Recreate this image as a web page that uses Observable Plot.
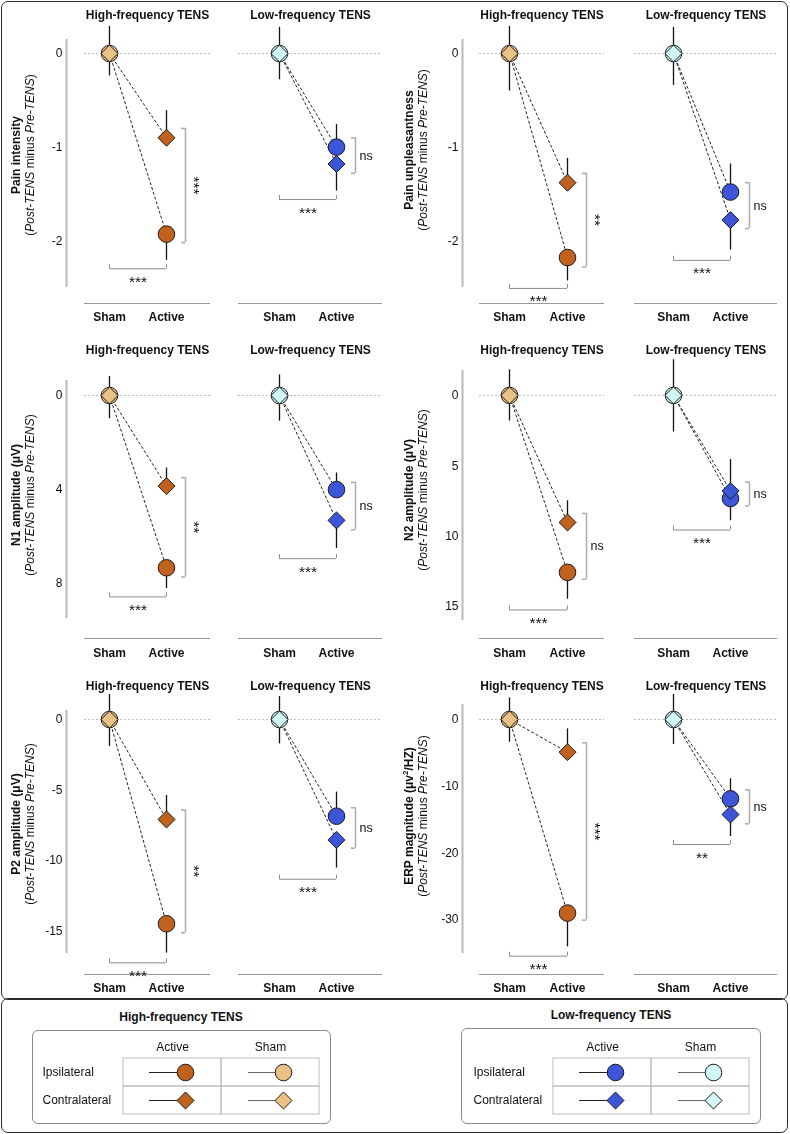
<!DOCTYPE html>
<html><head><meta charset="utf-8">
<script src="https://cdn.jsdelivr.net/npm/d3@7"></script>
<script src="https://cdn.jsdelivr.net/npm/@observablehq/plot@0.6"></script>
<style>
html,body{margin:0;padding:0;background:#fff;}
#fig{position:relative;width:790px;height:1134px;font-family:"Liberation Sans",Arial,sans-serif;overflow:hidden;color:#111;}
.box{position:absolute;box-sizing:border-box;border:1.3px solid #2b2b2b;border-radius:7px;}
.panel{position:absolute;will-change:transform;}
.panel svg{overflow:visible;display:block;background:transparent;}
.panel g[aria-label^="x-axis"] text{font-weight:bold;}
.legbox{position:absolute;box-sizing:border-box;border:1px solid #8a8a8a;border-radius:6px;}
.legtitle{position:absolute;font-weight:bold;font-size:12px;line-height:14px;transform:translateX(-50%);white-space:nowrap;}
</style></head><body><div id="fig"></div>
<script>
// ---------------- DATA ----------------
const conditions = ["Sham", "Active"];
const frequencies = ["High-frequency TENS", "Low-frequency TENS"];
const measures = ["Pain intensity", "Pain unpleasantness", "N1 amplitude (\u03bcV)", "N2 amplitude (\u03bcV)", "P2 amplitude (\u03bcV)", "ERP magnitude (\u03bcv\u00b2/HZ)"];
const yTicks = [[0, -1, -2], [0, -1, -2], [0, 4, 8], [0, 5, 10, 15], [0, -5, -10, -15], [0, -10, -20, -30]];
const yExtent = [[0.15, -2.5], [0.15, -2.5], [-0.64, 9.5], [-1.77, 16], [0.64, -16.6], [2.25, -35.1]];
// panels: [PI-High, PI-Low, PU-High, PU-Low, N1-High, N1-Low, N2-High, N2-Low, P2-High, P2-Low, ERP-High, ERP-Low]
const shamIpsi        = [0, 0, 0, 0, 0, 0, 0, 0, 0, 0, 0, 0];
const shamContra      = [0, 0, 0, 0, 0, 0, 0, 0, 0, 0, 0, 0];
const shamErrUp       = [0.29, 0.28, 0.29, 0.28, -0.81, -0.88, -1.82, -2.53, 1.77, 1.63, 3.25, 3.75];
const shamErrDown     = [-0.24, -0.28, -0.40, -0.34, 0.99, 1.09, 1.82, 2.60, -1.91, -1.73, -3.4, -3.75];
const activeIpsi      = [-1.93, -1.00, -2.18, -1.48, 7.34, 4.01, 12.58, 7.33, -14.49, -6.86, -29.04, -11.9];
const activeIpsiErr   = [-2.21, -0.76, -2.43, -1.18, 8.23, 3.30, 14.49, 8.91, -16.57, -5.15, -34.1, -8.9];
const activeContra    = [-0.90, -1.18, -1.38, -1.78, 3.86, 5.32, 9.03, 6.79, -7.09, -8.54, -4.9, -14.25];
const activeContraErr = [-0.61, -1.47, -1.12, -2.10, 3.09, 6.52, 7.49, 4.56, -5.39, -10.54, -1.4, -17.55];
const sideBracketTop    = [-0.80, -0.90, -1.28, -1.38, 3.50, 3.70, 8.39, 6.17, -6.41, -6.26, -3.5, -10.55];
const sideBracketBottom = [-2.02, -1.28, -2.28, -1.87, 7.73, 5.72, 13.07, 7.85, -15.13, -9.13, -30.1, -15.65];
const sideLabel         = ["***", "ns", "**", "ns", "**", "ns", "ns", "ns", "**", "ns", "***", "ns"];
const condBracket       = [-2.30, -1.56, -2.51, -2.21, 8.58, 6.95, 15.25, 9.57, -17.26, -11.33, -35.5, -18.75];
const condLabel         = ["***", "***", "***", "***", "***", "***", "***", "***", "***", "***", "***", "**"];
const legendConds = ["Active", "Sham"];
const legendSides = ["Ipsilateral", "Contralateral"];

// ---------------- STYLE / LAYOUT ----------------
const colors = {
  High: {Active: "#c0621e", Sham: "#ebc286"},
  Low: {Active: "#3d55d9", Sham: "#d0f6f6"}
};
const INK = "#111";
const FONT = "'Liberation Sans', Arial, sans-serif";
const ROWS = [
  {T: 0, H: 330, xAxis: 303, labelBase: 320, titleY: 14.5, axisTop: [39, 39], axisBottom: [287, 287], labelY: [155, 150]},
  {T: 330, H: 335, xAxis: 638, labelBase: 656, titleY: 349.5, axisTop: [380, 370], axisBottom: [618, 620], labelY: [495, 490]},
  {T: 665, H: 334, xAxis: 974, labelBase: 991, titleY: 686, axisTop: [710, 704], axisBottom: [953, 953], labelY: [824, 816]}
];
const COLS = [
  [{L: 0, W: 225, yAxis: 66, start: 84, end: 210, sham: 109, active: 166},
   {L: 225, W: 173, start: 238, end: 382, sham: 279, active: 336}],
  [{L: 398, W: 222, yAxis: 462, start: 479, end: 604, sham: 509, active: 567},
   {L: 620, W: 170, start: 634, end: 777, sham: 673, active: 730}]
];
const LABELX = [[19.5, 34], [412.5, 427]];
const CIRCLE_R = 8.3, DIAMOND_R = 7.66;

const fig = document.getElementById("fig");
function addDiv(cls, css, html) {
  const d = document.createElement("div");
  d.className = cls;
  Object.assign(d.style, css);
  if (html) d.innerHTML = html;
  fig.appendChild(d);
  return d;
}
addDiv("box", {left: "1px", top: "1px", width: "787px", height: "999px"});
addDiv("box", {left: "1px", top: "998px", width: "787px", height: "135px"});

function makePanel(p) {
  const m = Math.floor(p / 2), f = p % 2, col = m % 2, row = Math.floor(m / 2);
  const R = ROWS[row], C = COLS[col][f];
  const top = R.axisTop[col] - R.T, bottom = R.axisBottom[col] - R.T;
  const pal = colors[f === 0 ? "High" : "Low"];
  const sham = [
    {x: 0, y: shamIpsi[p], err: shamErrDown[p], side: "Ipsilateral"},
    {x: 0, y: shamContra[p], err: shamErrUp[p], side: "Contralateral"}
  ];
  const active = [
    {x: 1, y: activeIpsi[p], err: activeIpsiErr[p], side: "Ipsilateral"},
    {x: 1, y: activeContra[p], err: activeContraErr[p], side: "Contralateral"}
  ];
  const links = [
    {y1: shamIpsi[p], y2: activeIpsi[p]},
    {y1: shamContra[p], y2: activeContra[p]}
  ];
  const vb = [{x: 1, y1: sideBracketTop[p], y2: sideBracketBottom[p], label: sideLabel[p]}];
  const vbEnds = [{x: 1, y: sideBracketTop[p]}, {x: 1, y: sideBracketBottom[p]}];
  const hb = [{x1: 0, x2: 1, y: condBracket[p], label: condLabel[p]}];
  const hbEnds = [{x: 0, y: condBracket[p]}, {x: 1, y: condBracket[p]}];
  const bracketDx = 19;
  const ipsi = d => d.side === "Ipsilateral", contra = d => d.side === "Contralateral";

  const marks = [
    Plot.ruleY([0], {stroke: "#ababab", strokeDasharray: "2,2", strokeWidth: 0.8}),
    Plot.ruleY([yExtent[m][1]], {stroke: "#9a9a9a", strokeWidth: 1.2, dy: R.xAxis - R.axisBottom[col]}),
    Plot.link(links, {x1: 0, x2: 1, y1: "y1", y2: "y2", stroke: "#222", strokeWidth: 1, strokeDasharray: "3,2"}),
    Plot.ruleX(sham.concat(active), {x: "x", y1: "y", y2: "err", stroke: INK, strokeWidth: 1.3}),
    Plot.dot(sham.filter(ipsi), {x: "x", y: "y", r: CIRCLE_R, fill: pal.Sham, stroke: "#1a1a1a", strokeWidth: 1}),
    Plot.dot(active.filter(ipsi), {x: "x", y: "y", r: CIRCLE_R, fill: pal.Active, stroke: "#1a1a1a", strokeWidth: 1}),
    Plot.dot(sham.filter(contra), {x: "x", y: "y", r: DIAMOND_R, symbol: d3.symbolDiamond2, fill: pal.Sham, stroke: "#1a1a1a", strokeWidth: 1}),
    Plot.dot(active.filter(contra), {x: "x", y: "y", r: DIAMOND_R, symbol: d3.symbolDiamond2, fill: pal.Active, stroke: "#1a1a1a", strokeWidth: 1}),
    // side (ipsi vs contra) bracket
    Plot.ruleX(vb, {x: "x", y1: "y1", y2: "y2", dx: bracketDx, stroke: "#ababab", strokeWidth: 1.5}),
    Plot.ruleY(vbEnds, {x1: "x", x2: "x", y: "y", dx: bracketDx, insetLeft: -4, stroke: "#ababab", strokeWidth: 1.5}),
    Plot.text(vb.filter(d => d.label !== "ns"), {x: "x", y: d => (d.y1 + d.y2) / 2, text: "label", rotate: 90, lineAnchor: "middle", dx: 27, fontSize: 15.5, fill: INK}),
    Plot.text(vb.filter(d => d.label === "ns"), {x: "x", y: d => (d.y1 + d.y2) / 2, text: "label", textAnchor: "start", lineAnchor: "middle", dx: 23, fontSize: 12.5, fill: INK}),
    // sham vs active bracket
    Plot.ruleY(hb, {x1: "x1", x2: "x2", y: "y", stroke: "#8c8c8c", strokeWidth: 1}),
    Plot.ruleX(hbEnds, {x: "x", y1: "y", y2: "y", insetTop: -4, stroke: "#8c8c8c", strokeWidth: 1}),
    Plot.text(hb, {x: d => (d.x1 + d.x2) / 2, y: "y", text: "label", lineAnchor: "top", dy: 7, fontSize: 15.5, fill: INK}),
    // title
    Plot.text([frequencies[f]], {frameAnchor: "top", lineAnchor: "middle", dy: R.titleY - R.axisTop[col], fontWeight: "bold", fontSize: 12, fill: INK})
  ];
  if (f === 0) {
    marks.unshift(Plot.ruleX([0], {y1: yExtent[m][0], y2: yExtent[m][1], dx: C.yAxis - C.sham, stroke: "#b8b8b8", strokeWidth: 2}));
  }
  const svg = Plot.plot({
    width: C.W, height: R.H,
    marginLeft: C.start - C.L, marginRight: C.L + C.W - C.end,
    marginTop: top, marginBottom: R.H - bottom,
    style: {fontFamily: FONT, fontSize: "12px", color: INK, background: "transparent", overflow: "visible"},
    x: {domain: [0, 1], range: [C.sham - C.L, C.active - C.L], ticks: [0, 1], tickFormat: i => conditions[i], tickSize: 0, tickPadding: R.labelBase - 8.5 - R.axisBottom[col], label: null},
    y: f === 0
      ? {domain: yExtent[m], range: [top, bottom], ticks: yTicks[m], tickFormat: d => String(d), tickSize: 0, tickPadding: C.start - C.yAxis + 4, label: null}
      : {domain: yExtent[m], range: [top, bottom], axis: null},
    marks
  });
  if (f === 0) {
    const g = d3.select(svg).append("g").attr("font-family", FONT).attr("fill", INK).attr("font-size", 12);
    const cy = R.labelY[col] - R.T;
    const t1 = g.append("text").attr("transform", `translate(${LABELX[col][0] - C.L},${cy}) rotate(-90)`)
      .attr("text-anchor", "middle").attr("font-weight", "bold");
    const name = measures[m];
    if (name.includes("\u00b2")) {
      const [a, b] = name.split("\u00b2");
      t1.append("tspan").text(a);
      t1.append("tspan").attr("font-size", 8).attr("dy", -4.5).text("2");
      t1.append("tspan").attr("dy", 4.5).text(b);
    } else t1.text(name);
    const t2 = g.append("text").attr("transform", `translate(${LABELX[col][1] - C.L},${cy}) rotate(-90)`)
      .attr("text-anchor", "middle");
    t2.append("tspan").text("(");
    t2.append("tspan").attr("font-style", "italic").text("Post-TENS");
    t2.append("tspan").text(" minus ");
    t2.append("tspan").attr("font-style", "italic").text("Pre-TENS");
    t2.append("tspan").text(")");
  }
  const holder = addDiv("panel", {left: C.L + "px", top: R.T + "px", width: C.W + "px", height: R.H + "px"});
  holder.appendChild(svg);
}
for (let p = 0; p < 12; p++) makePanel(p);

// ---------------- LEGENDS ----------------
const LEGENDS = [
  {key: "High", L: 32, T: 1030, W: 299, H: 94, gridL: 123, gridR: 319, gridT: 1057, gridB: 1114, labelX: 42, titleX: 181, titleTop: 1009.5, title: "High-frequency TENS"},
  {key: "Low", L: 461, T: 1028, W: 300, H: 96, gridL: 552, gridR: 749, gridT: 1057, gridB: 1114, labelX: 473, titleX: 611, titleTop: 1007.5, title: "Low-frequency TENS"}
];
function makeLegend(Lg) {
  const pal = colors[Lg.key];
  addDiv("legbox", {left: Lg.L + "px", top: Lg.T + "px", width: Lg.W + "px", height: Lg.H + "px"});
  addDiv("legtitle", {left: Lg.titleX + "px", top: Lg.titleTop + "px"}, Lg.title);
  const cells = legendSides.flatMap(s => legendConds.map(c => ({side: s, cond: c})));
  const markerMarks = cells.map(c => Plot.dot([c], {
    x: "cond", y: "side", dx: 13, r: c.side === "Ipsilateral" ? CIRCLE_R : DIAMOND_R,
    symbol: c.side === "Ipsilateral" ? "circle" : d3.symbolDiamond2,
    fill: pal[c.cond], stroke: "#1a1a1a", strokeWidth: 1
  }));
  const svg = Plot.plot({
    width: Lg.W, height: Lg.H,
    marginLeft: Lg.gridL - Lg.L, marginRight: Lg.L + Lg.W - Lg.gridR,
    marginTop: Lg.gridT - Lg.T, marginBottom: Lg.T + Lg.H - Lg.gridB,
    style: {fontFamily: FONT, fontSize: "12px", color: INK, background: "transparent", overflow: "visible"},
    x: {type: "band", domain: legendConds, range: [Lg.gridL - Lg.L, Lg.gridR - Lg.L], padding: 0, axis: null},
    y: {type: "band", domain: legendSides, range: [Lg.gridT - Lg.T, Lg.gridB - Lg.T], padding: 0, axis: null},
    marks: [
      Plot.cell(cells, {x: "cond", y: "side", fill: "none", stroke: "#bdbdbd", strokeWidth: 1}),
      Plot.tickY(cells.filter(c => c.cond === "Active"), {x: "cond", y: "side", insetLeft: 26, insetRight: 36, stroke: "#222", strokeWidth: 1}),
      Plot.tickY(cells.filter(c => c.cond === "Sham"), {x: "cond", y: "side", insetLeft: 27, insetRight: 36, stroke: "#666", strokeWidth: 1}),
      ...markerMarks,
      Plot.text(legendConds, {x: d => d, frameAnchor: "top", lineAnchor: "middle", dy: -10.5, fontSize: 12, fill: INK}),
      Plot.text(legendSides, {y: d => d, frameAnchor: "left", textAnchor: "start", lineAnchor: "middle", dx: Lg.labelX - Lg.gridL, fontSize: 12, fill: INK})
    ]
  });
  const holder = addDiv("panel", {left: Lg.L + "px", top: Lg.T + "px", width: Lg.W + "px", height: Lg.H + "px"});
  holder.appendChild(svg);
}
LEGENDS.forEach(makeLegend);
</script></body></html>
